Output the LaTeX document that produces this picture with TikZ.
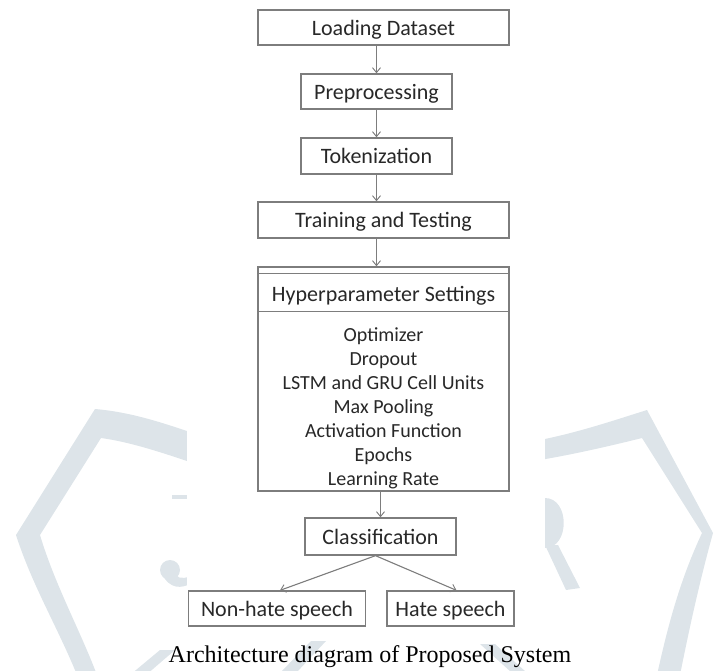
\documentclass[tikz,border=0pt]{standalone}
\usepackage{fontspec}
\setmainfont{Carlito}
\newfontfamily\capfont{Liberation Serif}
\usetikzlibrary{arrows.meta}
\definecolor{wmark}{RGB}{221,228,233}
\definecolor{edge}{RGB}{125,125,125}
\definecolor{ink}{RGB}{40,40,40}
\begin{document}
\begin{tikzpicture}[x=1pt,y=-1pt,
  box/.style={draw=edge, line width=1.3pt, fill=white, text=ink,
    font=\fontsize{22}{24}\selectfont, inner sep=0pt,
    text height=15pt, text depth=0pt},
  item/.style={text=ink, font=\fontsize{20}{24}\selectfont, anchor=base, inner sep=0pt},
  rule/.style={draw=edge, line width=1.3pt},
  link/.style={draw=edge, line width=1.1pt,
    -{Straight Barb[length=5pt,width=8pt,line width=0.9pt]}},
  wm/.style={fill=wmark, draw=none}
]
\useasboundingbox (0,0) rectangle (715,670);

% faint logo in the background
\fill[wm] (95,409) .. controls (130,412) and (160,422) .. (190,432)
  -- (190,462) .. controls (160,452) and (130,442) .. (101,438)
  -- (40,535) .. controls (55,585) and (80,630) .. (97,675)
  -- (77,675) .. controls (58,628) and (32,585) .. (16,535) -- cycle;
\fill[wm] (540,440) .. controls (580,432) and (615,420) .. (647,410)
  -- (713,533) .. controls (700,580) and (690,625) .. (680,675)
  -- (657,675) .. controls (668,625) and (680,580) .. (702,533)
  -- (642,438) .. controls (610,446) and (575,454) .. (540,460) -- cycle;
\fill[wm] (172,495) rectangle (190,499);
\fill[wm] (170,570) circle (10);
\fill[wm] (162,574) .. controls (170,590) and (182,588) .. (190,584)
  -- (190,576) .. controls (182,580) and (176,578) .. (172,570) -- cycle;
\fill[wm] (545,498) .. controls (570,498) and (570,548) .. (545,548) -- cycle;
\fill[wm] (545,545) -- (558,545) -- (580,588) -- (566,590) -- cycle;
\fill[wm] (130,675) -- (160,650) -- (175,650) -- (146,675) -- cycle;
\fill[wm] (326,641) -- (311,641) -- (281,672) -- (297,672) -- cycle;
\fill[wm] (480,644) -- (495,644) -- (526,672) -- (511,672) -- cycle;

% white ground of the flow chart
\fill[white] (187,0) rectangle (545,634);

% flow chart boxes
\node[box, minimum width=251pt, minimum height=35pt] (load) at (383.5,27.5) {Loading Dataset};
\node[box, minimum width=151pt, minimum height=35pt] (prep) at (376.5,91.5) {Preprocessing};
\node[box, minimum width=151pt, minimum height=36pt] (tok) at (376.5,156) {Tokenization};
\node[box, minimum width=251pt, minimum height=36pt] (train) at (383.5,220) {Training and Testing};

\node[box, minimum width=251pt, minimum height=224pt] (hyper) at (383.5,379) {};
\draw[rule] ([yshift=-7pt]hyper.north west) -- ([yshift=-7pt]hyper.north east);
\draw[rule] ([yshift=-45pt]hyper.north west) -- ([yshift=-45pt]hyper.north east);
\node[item, font=\fontsize{22}{24}\selectfont] (htitle) at (383.5,301) {Hyperparameter Settings};
\node[item] (opt) at (383.5,341) {Optimizer};
\node[item] (drop) at (383.5,365) {Dropout};
\node[item] (cell) at (383.5,389) {LSTM and GRU Cell Units};
\node[item] (pool) at (383.5,413) {Max Pooling};
\node[item] (act) at (383.5,437) {Activation Function};
\node[item] (ep) at (383.5,461) {Epochs};
\node[item] (lr) at (383.5,485) {Learning Rate};

\node[box, minimum width=151pt, minimum height=37pt] (cls) at (380.5,536.5) {Classification};
\node[box, minimum width=177pt, minimum height=35pt] (nonhate) at (277,608.5) {Non-hate speech};
\node[box, minimum width=127pt, minimum height=35pt] (hate) at (450.5,608.5) {Hate speech};

\node[font=\capfont\fontsize{24}{28}\selectfont, anchor=base, inner sep=0pt] (caption)
  at (370,662) {Architecture diagram of Proposed System};

% connectors
\draw[link] (prep.north |- load.south) -- (prep.north);
\draw[link] (prep.south) -- (tok.north);
\draw[link] (tok.south) -- (tok.south |- train.north);
\draw[link] (tok.south |- train.south) -- (tok.south |- hyper.north);
\draw[link] (cls.north |- hyper.south) -- (cls.north);
\draw[link] ([xshift=-5pt]cls.south) -- ([xshift=3pt]nonhate.north);
\draw[link] ([xshift=-5pt]cls.south) -- ([xshift=6pt]hate.north);
\end{tikzpicture}
\end{document}
